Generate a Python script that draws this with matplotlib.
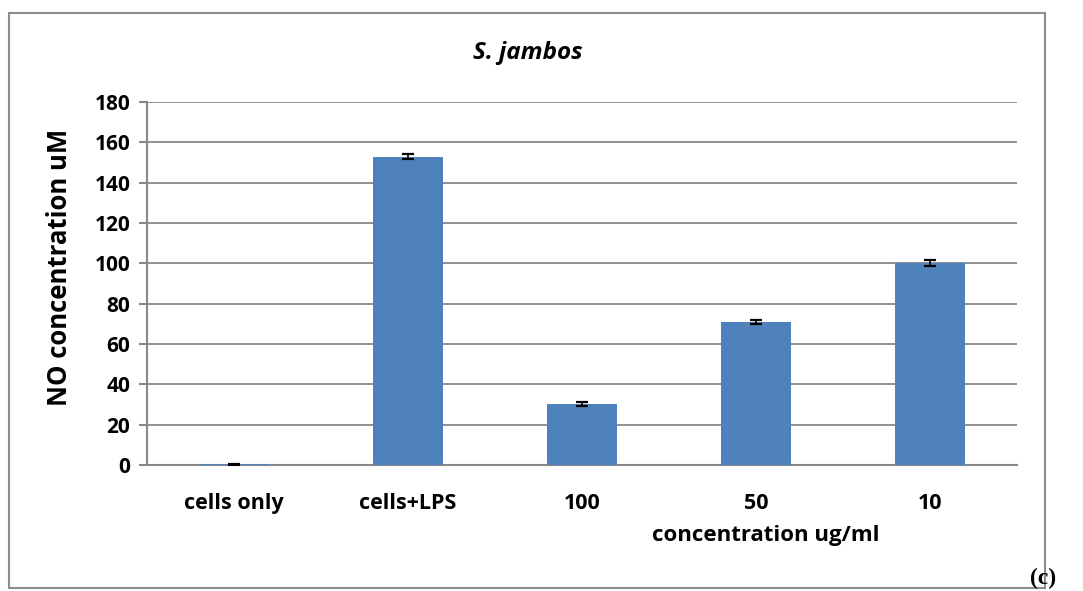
import numpy as np
import matplotlib.pyplot as plt
from matplotlib.patches import Rectangle

# NO production, S. jambos extract
categories = ["cells only", "cells+LPS", "100", "50", "10"]
no_conc = [0.4, 152.8, 30.2, 70.8, 100.0]
no_err = [0.3, 1.3, 0.8, 1.0, 1.5]
yticks = [0, 20, 40, 60, 80, 100, 120, 140, 160, 180]

plt.rcParams['font.family'] = ['Open Sans', 'DejaVu Sans']
plt.rcParams['font.weight'] = 'bold'

W, H = 1083, 591
fig = plt.figure(figsize=(W/100, H/100), dpi=100)
ax = fig.add_axes([147/W, 1-465/H, (1017-147)/W, (465-102)/H])

x = np.arange(len(categories))
ax.bar(x, no_conc, width=0.4, color="#4f81bd", zorder=3)
ax.errorbar(x, no_conc, yerr=no_err, fmt="none", ecolor="black",
            elinewidth=1.2, capsize=4, capthick=1.6, zorder=4)

ax.set_xlim(-0.5, len(categories)-0.5)
ax.set_ylim(0, 180)
ax.set_yticks(yticks)
ax.set_xticks(x)
ax.set_xticklabels(categories)
ax.tick_params(axis='y', length=6, color="#888888", width=1.5, labelsize=15, pad=6)
ax.tick_params(axis='x', length=0, labelsize=15.5, pad=20)
for lab in ax.get_xticklabels() + ax.get_yticklabels():
    lab.set_fontweight("bold")
ax.grid(axis='y', color="#888888", linewidth=1.3, zorder=0)
for s in ["top", "right"]:
    ax.spines[s].set_visible(False)
for s in ["left", "bottom"]:
    ax.spines[s].set_color("#888888")
    ax.spines[s].set_linewidth(1.5)

fig.text(528/W, 1-53/H, "S. jambos", ha="center", va="center",
         fontsize=17.5, style="italic", weight="bold")
fig.text(60/W, 1-267/H, "NO concentration uM", ha="center", va="center",
         rotation=90, fontsize=18.5, weight="bold")
fig.text(766/W, 1-535/H, "concentration ug/ml", ha="center", va="center",
         fontsize=16, weight="bold")

# outer chart frame
fig.patches.append(Rectangle((9/W, 1-588/H), (1045-9)/W, (588-13)/H,
                             transform=fig.transFigure, fill=False,
                             edgecolor="#8c8c8c", linewidth=1.5))
fig.text(1030/W, 1-578/H, "(c)", ha="left", va="center",
         fontsize=17, weight="bold", family="Liberation Serif")

plt.savefig("out.png", dpi=100)
